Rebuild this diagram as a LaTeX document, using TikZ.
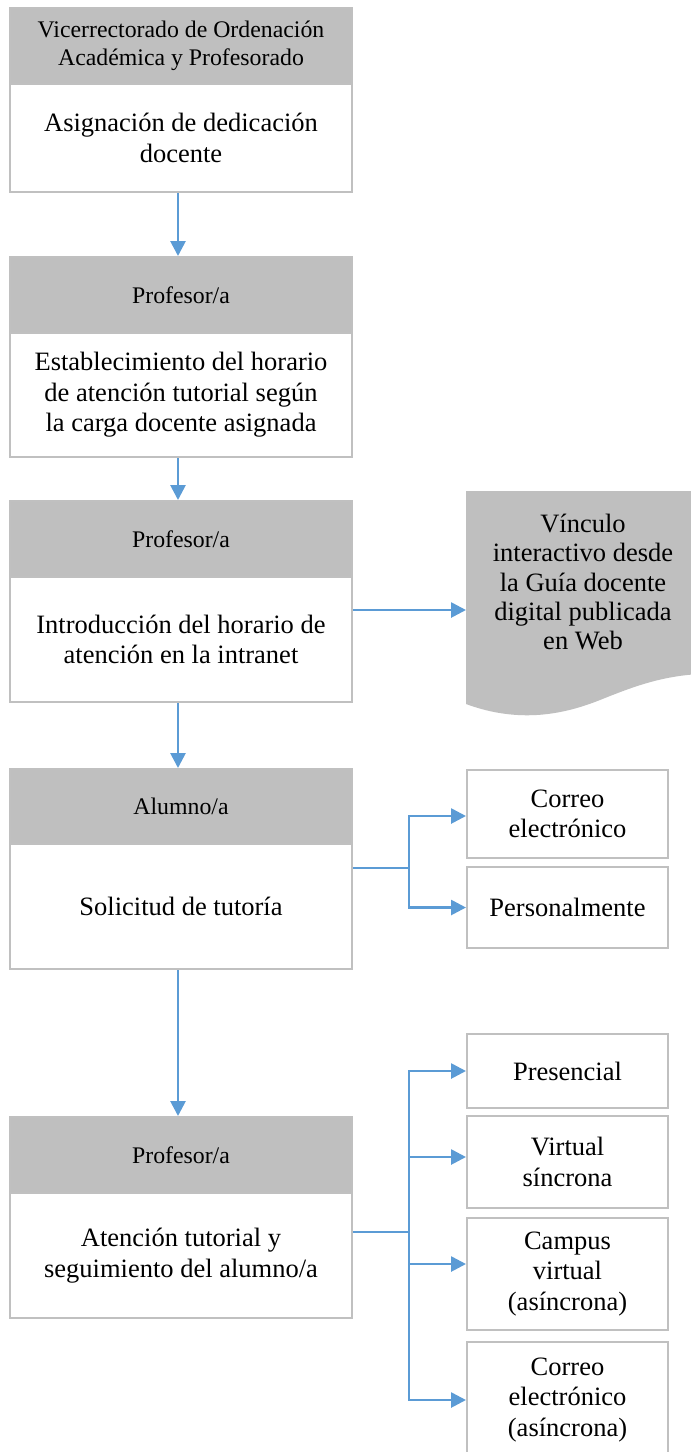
\documentclass[tikz,border=0pt]{standalone}
\usepackage{fontspec}
\setmainfont{Liberation Serif}
\usetikzlibrary{arrows.meta,calc}
\definecolor{hdrgray}{HTML}{BFBFBF}
\definecolor{bordgray}{HTML}{C0C0C0}
\definecolor{arrblue}{HTML}{5B9BD5}
\begin{document}
\begin{tikzpicture}[x=1pt,y=-1pt,
  hdr/.style={rectangle,draw=bordgray,fill=hdrgray,line width=2pt,minimum width=342pt,inner sep=0pt,align=center,
    font=\fontsize{23.8}{27.5}\selectfont},
  bodybox/.style={rectangle,draw=bordgray,fill=white,line width=2pt,minimum width=342pt,inner sep=0pt,align=center,
    font=\fontsize{26.5}{30.5}\selectfont},
  sidebox/.style={rectangle,draw=bordgray,fill=white,line width=2pt,minimum width=201pt,inner sep=0pt,align=center,
    font=\fontsize{26.5}{30.5}\selectfont},
  ln/.style={draw=arrblue,line width=2.7pt},
  arr/.style={draw=arrblue,line width=2.7pt,-{Triangle[length=15pt,width=15pt]},arrblue}
]
\useasboundingbox (0,0) rectangle (691,1452);
\fill[white] (0,0) rectangle (691,1452);

% Box 1
\node[bodybox,minimum height=108pt] (b1) at (181,138) {Asignación de dedicación\\docente};
\node[hdr,minimum height=76pt] (h1) at (181,46) {Vicerrectorado de Ordenación\\Académica y Profesorado};

% Box 2
\node[bodybox,minimum height=124pt] (b2) at (181,395) {Establecimiento del horario\\de atención tutorial según\\la carga docente asignada};
\node[hdr,minimum height=76pt] (h2) at (181,295) {Profesor/a};

% Box 3
\node[bodybox,minimum height=125pt] (b3) at (181,639.5) {Introducción del horario de\\atención en la intranet};
\node[hdr,minimum height=76pt] (h3) at (181,539) {Profesor/a};

% Box 4
\node[bodybox,minimum height=125pt] (b4) at (181,906.5) {Solicitud de tutoría};
\node[hdr,minimum height=75pt] (h4) at (181,806.5) {Alumno/a};

% Box 5
\node[bodybox,minimum height=125pt] (b5) at (181,1255.5) {Atención tutorial y\\seguimiento del alumno/a};
\node[hdr,minimum height=76pt] (h5) at (181,1155) {Profesor/a};

% Document shape
\fill[hdrgray] (466,491) -- (700,491) -- (700,674)
  .. controls (660,676) and (630,688) .. (600,700)
  .. controls (565,714) and (520,724) .. (466,704) -- cycle;
\node[align=center,font=\fontsize{26.5}{29.3}\selectfont,inner sep=0pt] (doc) at (583,582)
  {Vínculo\\interactivo desde\\la Guía docente\\digital publicada\\en Web};
\coordinate (docw) at (466,610);

% Side boxes
\node[sidebox,minimum height=88pt] (c1) at (567.5,814) {Correo\\electrónico};
\node[sidebox,minimum height=81pt] (c2) at (567.5,907.5) {Personalmente};
\node[sidebox,minimum height=74pt] (p1) at (567.5,1071) {Presencial};
\node[sidebox,minimum height=92pt] (p2) at (567.5,1162) {Virtual\\síncrona};
\node[sidebox,minimum height=112pt] (p3) at (567.5,1274) {Campus\\virtual\\(asíncrona)};
\node[sidebox,minimum height=116pt] (p4) at (567.5,1400) {Correo\\electrónico\\(asíncrona)};

% Vertical arrows
\draw[arr] ([xshift=-3pt]b1.south) -- ([xshift=-3pt]h2.north);
\draw[arr] ([xshift=-3pt]b2.south) -- ([xshift=-3pt]h3.north);
\draw[arr] ([xshift=-3pt]b3.south) -- ([xshift=-3pt]h4.north);
\draw[arr] ([xshift=-3pt]b4.south) -- ([xshift=-3pt]h5.north);

% Arrow to document
\draw[arr] (b3.east |- docw) -- (docw);

% Branch from box 4
\coordinate (j1) at (409,868);
\draw[ln] (b4.east |- j1) -- (j1);
\draw[arr] (j1) |- ([yshift=-2pt]c1.west);
\draw[arr] (j1) |- (c2.west);

% Branch from box 5
\coordinate (j2) at (409,1232);
\draw[ln] (b5.east |- j2) -- (j2);
\draw[arr] (j2) |- (p1.west);
\draw[arr] (j2) |- ([yshift=5pt]p2.west);
\draw[arr] (j2) |- ([yshift=10pt]p3.west);
\draw[arr] (j2) |- (p4.west);
\end{tikzpicture}
\end{document}
